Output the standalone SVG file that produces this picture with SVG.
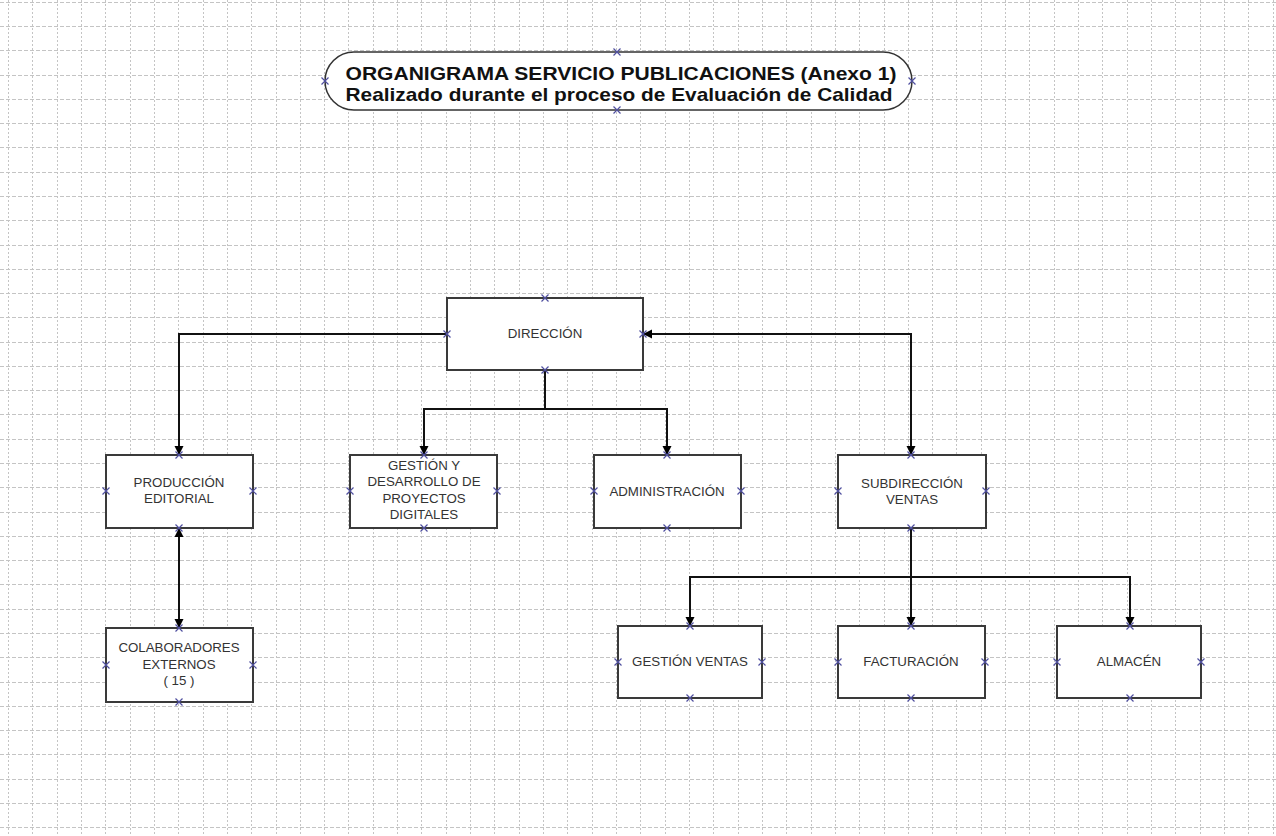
<svg xmlns="http://www.w3.org/2000/svg" xmlns:xlink="http://www.w3.org/1999/xlink" width="1276" height="836" viewBox="0 0 1276 836">
<style>
.gv{stroke:#c4c4c4;stroke-width:1;stroke-dasharray:2 2;fill:none}
.gh{stroke:#c4c4c4;stroke-width:1;stroke-dasharray:4 2;fill:none}
.box{fill:#fff;stroke:#3a3a3a;stroke-width:2}
.pill{fill:#fff;stroke:#333;stroke-width:1.5}
.lbl{font-family:"Liberation Sans",Arial,sans-serif;font-size:13.3px;fill:#333;text-anchor:middle}
.ttl{font-family:"Liberation Sans",Arial,sans-serif;font-size:19px;font-weight:bold;fill:#111;text-anchor:middle}
.con{fill:none;stroke:#111;stroke-width:2}
</style>
<defs>
<marker id="arr" viewBox="0 0 10 10" refX="10" refY="5" markerWidth="9" markerHeight="11" markerUnits="userSpaceOnUse" orient="auto-start-reverse">
<path d="M0,0 L10,5 L0,10 z" fill="#000"/>
</marker>
<path id="xm" d="M-3.5,-3.5L3.5,3.5M-3.5,3.5L3.5,-3.5" stroke="#5050a0" stroke-width="1.2" fill="none"/>
</defs>
<rect width="1276" height="836" fill="#fff"/>
<g id="grid">
<path class="gv" d="M8.5,0V836M32.5,0V836M57.5,0V836M81.5,0V836M105.5,0V836M130.5,0V836M154.5,0V836M178.5,0V836M203.5,0V836M227.5,0V836M251.5,0V836M276.5,0V836M300.5,0V836M324.5,0V836M348.5,0V836M373.5,0V836M397.5,0V836M421.5,0V836M446.5,0V836M470.5,0V836M494.5,0V836M519.5,0V836M543.5,0V836M567.5,0V836M592.5,0V836M616.5,0V836M640.5,0V836M665.5,0V836M689.5,0V836M713.5,0V836M738.5,0V836M762.5,0V836M786.5,0V836M811.5,0V836M835.5,0V836M859.5,0V836M884.5,0V836M908.5,0V836M932.5,0V836M956.5,0V836M981.5,0V836M1005.5,0V836M1029.5,0V836M1054.5,0V836M1078.5,0V836M1102.5,0V836M1127.5,0V836M1151.5,0V836M1175.5,0V836M1200.5,0V836M1224.5,0V836M1248.5,0V836M1273.5,0V836"/>
<path class="gh" d="M0,2.5H1276M0,26.5H1276M0,50.5H1276M0,75.5H1276M0,99.5H1276M0,123.5H1276M0,147.5H1276M0,172.5H1276M0,196.5H1276M0,220.5H1276M0,245.5H1276M0,269.5H1276M0,293.5H1276M0,317.5H1276M0,342.5H1276M0,366.5H1276M0,390.5H1276M0,414.5H1276M0,439.5H1276M0,463.5H1276M0,487.5H1276M0,512.5H1276M0,536.5H1276M0,560.5H1276M0,584.5H1276M0,609.5H1276M0,633.5H1276M0,657.5H1276M0,682.5H1276M0,706.5H1276M0,730.5H1276M0,754.5H1276M0,779.5H1276M0,803.5H1276M0,827.5H1276"/>
</g>
<g id="connectors">
<path class="con" d="M447,334 H179 V455" marker-end="url(#arr)"/>
<path class="con" d="M545,370 V409"/>
<path class="con" d="M424,455 V409 H667 V455" marker-start="url(#arr)" marker-end="url(#arr)"/>
<path class="con" d="M911,455 V334 H643" marker-start="url(#arr)" marker-end="url(#arr)"/>
<path class="con" d="M179,528 V628" marker-start="url(#arr)" marker-end="url(#arr)"/>
<path class="con" d="M911,528 V626" marker-end="url(#arr)"/>
<path class="con" d="M690,626 V577 H1130 V626" marker-start="url(#arr)" marker-end="url(#arr)"/>
</g>
<g id="title">
<rect class="pill" x="325" y="52" width="587" height="58" rx="29"/>
<text class="ttl" x="621" y="80" textLength="551" lengthAdjust="spacingAndGlyphs">ORGANIGRAMA SERVICIO PUBLICACIONES (Anexo 1)</text>
<text class="ttl" x="619" y="101" textLength="547" lengthAdjust="spacingAndGlyphs">Realizado durante el proceso de Evaluación de Calidad</text>
<use xlink:href="#xm" x="617" y="52"/><use xlink:href="#xm" x="617" y="110"/><use xlink:href="#xm" x="325" y="81"/><use xlink:href="#xm" x="912" y="81"/>
</g>
<g id="direccion">
<rect class="box" x="447" y="298" width="196" height="72"/>
<text class="lbl" x="545" y="338">DIRECCIÓN</text>
<use xlink:href="#xm" x="545" y="298"/><use xlink:href="#xm" x="545" y="370"/><use xlink:href="#xm" x="447" y="334"/><use xlink:href="#xm" x="643" y="334"/>
</g>
<g id="produccion">
<rect class="box" x="106" y="455" width="147" height="73"/>
<text class="lbl" x="179" y="487">PRODUCCIÓN</text>
<text class="lbl" x="179" y="503">EDITORIAL</text>
<use xlink:href="#xm" x="179" y="455"/><use xlink:href="#xm" x="179" y="528"/><use xlink:href="#xm" x="106" y="491"/><use xlink:href="#xm" x="253" y="491"/>
</g>
<g id="gestion-proyectos">
<rect class="box" x="350" y="455" width="147" height="73"/>
<text class="lbl" x="424" y="470">GESTIÓN Y</text>
<text class="lbl" x="424" y="486">DESARROLLO DE</text>
<text class="lbl" x="424" y="503">PROYECTOS</text>
<text class="lbl" x="424" y="519">DIGITALES</text>
<use xlink:href="#xm" x="424" y="455"/><use xlink:href="#xm" x="424" y="528"/><use xlink:href="#xm" x="350" y="491"/><use xlink:href="#xm" x="497" y="491"/>
</g>
<g id="administracion">
<rect class="box" x="594" y="455" width="147" height="73"/>
<text class="lbl" x="667" y="496">ADMINISTRACIÓN</text>
<use xlink:href="#xm" x="667" y="455"/><use xlink:href="#xm" x="667" y="528"/><use xlink:href="#xm" x="594" y="491"/><use xlink:href="#xm" x="741" y="491"/>
</g>
<g id="subdireccion">
<rect class="box" x="838" y="455" width="148" height="73"/>
<text class="lbl" x="912" y="488">SUBDIRECCIÓN</text>
<text class="lbl" x="912" y="504">VENTAS</text>
<use xlink:href="#xm" x="911" y="455"/><use xlink:href="#xm" x="911" y="528"/><use xlink:href="#xm" x="838" y="491"/><use xlink:href="#xm" x="986" y="491"/>
</g>
<g id="colaboradores">
<rect class="box" x="106" y="628" width="147" height="74"/>
<text class="lbl" x="179" y="652">COLABORADORES</text>
<text class="lbl" x="179" y="669">EXTERNOS</text>
<text class="lbl" x="179" y="685">( 15 )</text>
<use xlink:href="#xm" x="179" y="628"/><use xlink:href="#xm" x="179" y="702"/><use xlink:href="#xm" x="106" y="665"/><use xlink:href="#xm" x="253" y="665"/>
</g>
<g id="gestion-ventas">
<rect class="box" x="618" y="626" width="144" height="72"/>
<text class="lbl" x="690" y="666">GESTIÓN VENTAS</text>
<use xlink:href="#xm" x="690" y="626"/><use xlink:href="#xm" x="690" y="698"/><use xlink:href="#xm" x="618" y="662"/><use xlink:href="#xm" x="762" y="662"/>
</g>
<g id="facturacion">
<rect class="box" x="838" y="626" width="147" height="72"/>
<text class="lbl" x="911" y="666">FACTURACIÓN</text>
<use xlink:href="#xm" x="911" y="626"/><use xlink:href="#xm" x="911" y="698"/><use xlink:href="#xm" x="838" y="662"/><use xlink:href="#xm" x="985" y="662"/>
</g>
<g id="almacen">
<rect class="box" x="1057" y="626" width="144" height="72"/>
<text class="lbl" x="1129" y="666">ALMACÉN</text>
<use xlink:href="#xm" x="1130" y="626"/><use xlink:href="#xm" x="1130" y="698"/><use xlink:href="#xm" x="1057" y="662"/><use xlink:href="#xm" x="1201" y="662"/>
</g>
</svg>
